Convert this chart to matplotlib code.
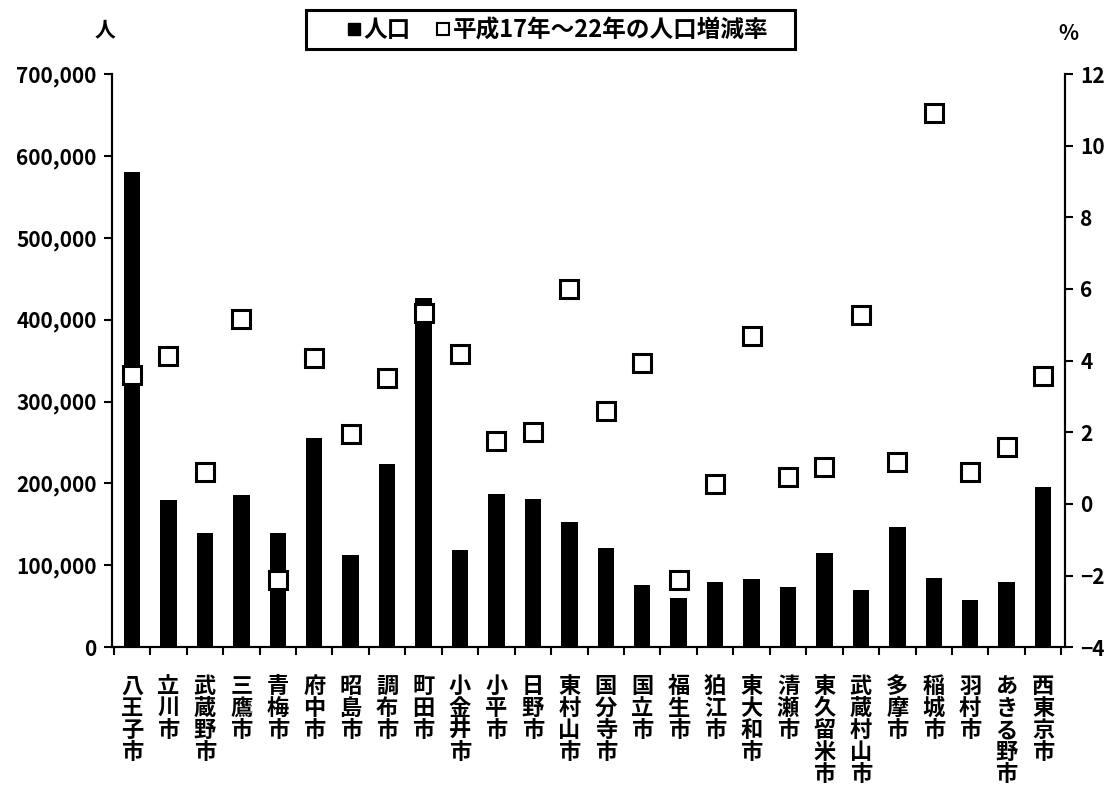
import matplotlib.pyplot as plt
import numpy as np
from matplotlib.lines import Line2D
from matplotlib.patches import Rectangle

plt.rcParams['font.family'] = ['Noto Sans CJK JP', 'DejaVu Sans']
plt.rcParams['font.weight'] = 'bold'

cities = ['八王子市', '立川市', '武蔵野市', '三鷹市', '青梅市', '府中市', '昭島市', '調布市',
          '町田市', '小金井市', '小平市', '日野市', '東村山市', '国分寺市', '国立市', '福生市',
          '狛江市', '東大和市', '清瀬市', '東久留米市', '武蔵村山市', '多摩市', '稲城市',
          '羽村市', 'あきる野市', '西東京市']
population = [580000, 180000, 139000, 186000, 139000, 256000, 112000, 224000,
              427000, 119000, 187000, 181000, 153000, 121000, 76000, 60000,
              79000, 83000, 74000, 115000, 70000, 147000, 85000,
              57000, 80000, 196000]
rate = [3.6, 4.14, 0.9, 5.15, -2.13, 4.06, 1.96, 3.5,
        5.34, 4.18, 1.76, 2.0, 5.99, 2.6, 3.92, -2.13,
        0.55, 4.68, 0.75, 1.02, 5.27, 1.17, 10.9,
        0.88, 1.6, 3.56]

left_ticks = [0, 100000, 200000, 300000, 400000, 500000, 600000, 700000]
right_ticks = [-4, -2, 0, 2, 4, 6, 8, 10, 12]

fig = plt.figure(figsize=(11.12, 7.96), dpi=100)
ax = fig.add_axes([0.1007, 0.187, 0.857, 0.72])
x = np.arange(len(cities))

ax.bar(x, population, width=0.45, color='black', zorder=2)
ax.set_ylim(0, 700000)
ax.set_xlim(-0.55, len(cities) - 0.4)
ax.set_yticks(left_ticks)
ax.set_yticklabels([f'{v:,}' for v in left_ticks], fontsize=15, fontweight='bold')

ax.set_xticks(x)
ax.set_xticklabels(['\n'.join(c) for c in cities], fontsize=16, fontweight='bold',
                   linespacing=0.95, va='top')
ax.tick_params(axis='x', which='major', length=0, pad=20)
ax.set_xticks(np.arange(-0.5, len(cities), 1.0), minor=True)
ax.tick_params(axis='x', which='minor', length=6, width=1.5, direction='out')
ax.tick_params(axis='y', length=6, width=1.5, direction='out', pad=5)

ax2 = ax.twinx()
ax2.plot(x, rate, linestyle='none', marker='s', markersize=13,
         markerfacecolor='white', markeredgecolor='black', markeredgewidth=2.2, zorder=3)
ax2.set_ylim(-4, 12)
ax2.set_yticks(right_ticks)
ax2.set_yticklabels([str(v).replace('-', '−') for v in right_ticks], fontsize=15, fontweight='bold')
ax2.tick_params(axis='y', length=6, width=1.5, direction='out', pad=5)

for a in (ax, ax2):
    a.spines['top'].set_visible(False)
    for s in ('left', 'right', 'bottom'):
        a.spines[s].set_linewidth(1.5)

fig.text(0.094, 0.962, '人', fontsize=15, fontweight='bold', ha='center', va='center')
fig.text(0.961, 0.958, '%', fontsize=15, fontweight='bold', ha='center', va='center')

# legend box drawn separately
fig.patches.append(Rectangle((0.2752, 0.9384), 0.4397, 0.049, transform=fig.transFigure,
                             fill=False, edgecolor='black', linewidth=2.2))
handles = [Line2D([], [], linestyle='none', marker='s', markersize=8,
                  markerfacecolor='black', markeredgecolor='black'),
           Line2D([], [], linestyle='none', marker='s', markersize=8,
                  markerfacecolor='white', markeredgecolor='black', markeredgewidth=1.5)]
fig.legend(handles, ['人口', '平成17年～22年の人口増減率'], loc='center',
           bbox_to_anchor=(0.5013, 0.962), ncol=2, frameon=False,
           handlelength=0.6, handletextpad=0.1, columnspacing=1.1,
           borderpad=0, borderaxespad=0, prop={'weight': 'bold', 'size': 17})

fig.savefig('out.png', dpi=100, facecolor='white')
